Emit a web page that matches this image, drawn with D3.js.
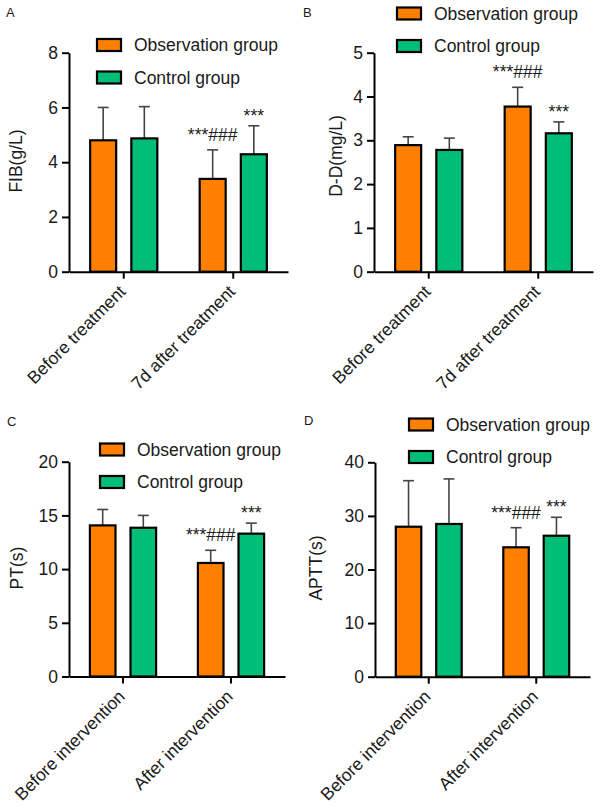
<!DOCTYPE html>
<html><head><meta charset="utf-8">
<script src="https://cdn.jsdelivr.net/npm/d3@7"></script>
<style>
body{margin:0;background:#fff}
svg{display:block}
text{font-family:"Liberation Sans",Arial,Helvetica,sans-serif;fill:#1a1a1a}
</style>
</head><body>
<svg id="chart" width="600" height="808"></svg>
<script>
// ---------- data ----------
const groups = ["Observation group", "Control group"];
const treatmentCats = ["Before treatment", "7d after treatment"];
const interventionCats = ["Before intervention", "After intervention"];

const fibObs = [4.80, 3.39], fibObsSD = [1.20, 1.06];
const fibCtrl = [4.87, 4.29], fibCtrlSD = [1.16, 1.04];

const ddObs = [2.89, 3.77], ddObsSD = [0.19, 0.44];
const ddCtrl = [2.78, 3.16], ddCtrlSD = [0.27, 0.26];

const ptObs = [14.07, 10.57], ptObsSD = [1.48, 1.18];
const ptCtrl = [13.85, 13.30], ptCtrlSD = [1.15, 0.98];

const apttObs = [27.98, 24.14], apttObsSD = [8.59, 3.66];
const apttCtrl = [28.49, 26.30], apttCtrlSD = [8.41, 3.44];

const fibTicks = [0, 2, 4, 6, 8];
const ddTicks = [0, 1, 2, 3, 4, 5];
const ptTicks = [0, 5, 10, 15, 20];
const apttTicks = [0, 10, 20, 30, 40];

const sigObs = ["", "***###"];
const sigCtrl = ["", "***"];

const colors = ["#FF8000", "#00BE78"];

// ---------- layout ----------
const panels = [
  {letter:"A", ylabel:"FIB(g/L)", cats:treatmentCats, obs:fibObs, obsSD:fibObsSD, ctrl:fibCtrl, ctrlSD:fibCtrlSD, ticks:fibTicks,
   left:69, right:288, top:52.7, bottom:271.7, legX:97, legY:39, letX:6, letY:17, ylX:15.5, ylY:161},
  {letter:"B", ylabel:"D-D(mg/L)", cats:treatmentCats, obs:ddObs, obsSD:ddObsSD, ctrl:ddCtrl, ctrlSD:ddCtrlSD, ticks:ddTicks,
   left:374, right:593, top:52.7, bottom:271.7, legX:397, legY:7.5, letX:303, letY:16.5, ylX:336, ylY:156},
  {letter:"C", ylabel:"PT(s)", cats:interventionCats, obs:ptObs, obsSD:ptObsSD, ctrl:ptCtrl, ctrlSD:ptCtrlSD, ticks:ptTicks,
   left:69, right:285, top:461.7, bottom:676.5, legX:100, legY:443.5, letX:7, letY:426, ylX:17, ylY:568},
  {letter:"D", ylabel:"APTT(s)", cats:interventionCats, obs:apttObs, obsSD:apttObsSD, ctrl:apttCtrl, ctrlSD:apttCtrlSD, ticks:apttTicks,
   left:375, right:590, top:462.3, bottom:676.7, legX:409, legY:418.5, letX:304, letY:425, ylX:316, ylY:568}
];

const FS = 17.5;
const svg = d3.select("#chart");

panels.forEach(p => {
  const g = svg.append("g");
  const y = d3.scaleLinear().domain([p.ticks[0], p.ticks[p.ticks.length-1]]).range([p.bottom, p.top]);
  const x0 = d3.scaleBand().domain(p.cats).range([p.left, p.right]).padding(0);
  const x1 = d3.scaleBand().domain(groups).range([0, x0.bandwidth()]).paddingInner(0.32).paddingOuter(0.49);

  const rows = [];
  p.cats.forEach((c, i) => {
    rows.push({cat:c, grp:groups[0], v:p.obs[i], sd:p.obsSD[i], sig:sigObs[i], gap:9, col:colors[0]});
    rows.push({cat:c, grp:groups[1], v:p.ctrl[i], sd:p.ctrlSD[i], sig:sigCtrl[i], gap:4, col:colors[1]});
  });

  // error bars
  rows.forEach(r => {
    const cx = x0(r.cat) + x1(r.grp) + x1.bandwidth()/2;
    g.append("line").attr("x1", cx).attr("x2", cx).attr("y1", y(r.v)).attr("y2", y(r.v + r.sd))
      .attr("stroke", "#444").attr("stroke-width", 1.6);
    g.append("line").attr("x1", cx - 5.5).attr("x2", cx + 5.5).attr("y1", y(r.v + r.sd)).attr("y2", y(r.v + r.sd))
      .attr("stroke", "#444").attr("stroke-width", 1.6);
    if (r.sig) {
      g.append("text").attr("x", cx).attr("y", y(r.v + r.sd) - r.gap)
        .attr("text-anchor", "middle").attr("font-size", FS).text(r.sig);
    }
  });

  // bars
  g.selectAll("rect.bar").data(rows).enter().append("rect")
    .attr("x", r => x0(r.cat) + x1(r.grp) + 1)
    .attr("width", x1.bandwidth() - 2)
    .attr("y", r => y(r.v))
    .attr("height", r => y(0) - y(r.v))
    .attr("fill", r => r.col).attr("stroke", "#000").attr("stroke-width", 2.2);

  // y axis
  const ya = g.append("g").attr("transform", `translate(${p.left},0)`)
    .call(d3.axisLeft(y).tickValues(p.ticks).tickSize(7).tickSizeOuter(0).tickPadding(4).tickFormat(d3.format("d")));
  ya.select(".domain").attr("stroke", "#000").attr("stroke-width", 2);
  ya.selectAll(".tick line").attr("stroke", "#000").attr("stroke-width", 2);
  ya.selectAll(".tick text").attr("font-size", FS).attr("font-family", "Liberation Sans, Arial, sans-serif").attr("fill", "#1a1a1a");

  // x axis
  const xa = g.append("g").attr("transform", `translate(0,${p.bottom})`)
    .call(d3.axisBottom(x0).tickSize(7).tickSizeOuter(0));
  xa.select(".domain").attr("stroke", "#000").attr("stroke-width", 2);
  xa.selectAll(".tick line").attr("stroke", "#000").attr("stroke-width", 2);
  xa.selectAll(".tick text").remove();
  p.cats.forEach(c => {
    const tx = x0(c) + x0.bandwidth()/2;
    g.append("text").attr("transform", `translate(${tx + 3},${p.bottom + 21}) rotate(-45)`)
      .attr("text-anchor", "end").attr("font-size", FS).text(c);
  });

  // y label
  g.append("text").attr("transform", `translate(${p.ylX},${p.ylY}) rotate(-90)`)
    .attr("text-anchor", "middle").attr("dy", "0.35em").attr("font-size", FS).text(p.ylabel);

  // panel letter
  g.append("text").attr("x", p.letX).attr("y", p.letY).attr("font-size", 13).text(p.letter);

  // legend
  groups.forEach((gr, i) => {
    const ly = p.legY + i * 32.5;
    g.append("rect").attr("x", p.legX).attr("y", ly).attr("width", 24).attr("height", 12)
      .attr("fill", colors[i]).attr("stroke", "#000").attr("stroke-width", 2.2);
    g.append("text").attr("x", p.legX + 37).attr("y", ly + 12).attr("font-size", FS).text(gr);
  });
});
</script>
</body></html>
